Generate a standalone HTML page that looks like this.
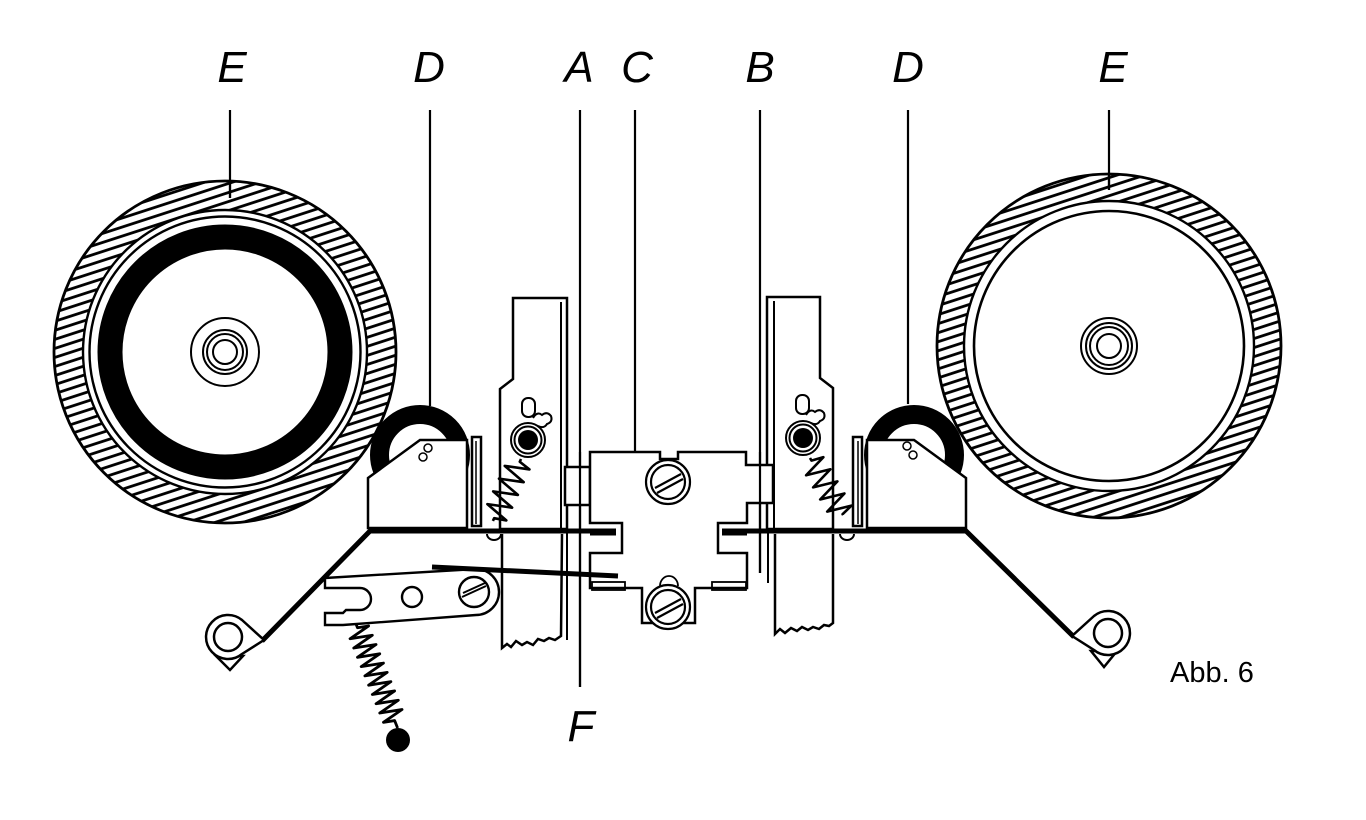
<!DOCTYPE html>
<html>
<head>
<meta charset="utf-8">
<style>
html,body{margin:0;padding:0;background:#fff;}
svg{display:block;}
.lbl{font-family:"Liberation Sans",sans-serif;font-style:italic;font-size:44px;fill:#000;text-anchor:middle;}
</style>
</head>
<body>
<svg width="1366" height="820" viewBox="0 0 1366 820" xmlns="http://www.w3.org/2000/svg">
<defs>
<pattern id="h" width="9" height="8.6" patternUnits="userSpaceOnUse" patternTransform="rotate(-18)">
<line x1="-1" y1="4.3" x2="10" y2="4.3" stroke="#000" stroke-width="2.8"/>
</pattern>
</defs>
<rect width="1366" height="820" fill="#fff"/>

<!-- label lines -->
<g stroke="#000" stroke-width="2.2" fill="none">
<line x1="230" y1="110" x2="230" y2="198"/>
<line x1="430" y1="110" x2="430" y2="406"/>
<line x1="580" y1="110" x2="580" y2="687"/>
<line x1="635" y1="110" x2="635" y2="467"/>
<line x1="760" y1="110" x2="760" y2="573"/>
<line x1="908" y1="110" x2="908" y2="404"/>
<line x1="1109" y1="110" x2="1109" y2="190"/>
</g>

<!-- left reel -->
<path d="M54,352 a171,171 0 1 0 342,0 a171,171 0 1 0 -342,0 Z M83,352 a142,142 0 1 0 284,0 a142,142 0 1 0 -284,0 Z" fill="url(#h)" fill-rule="evenodd"/>
<g fill="none" stroke="#000">
<circle cx="225" cy="352" r="171" stroke-width="2.8"/>
<circle cx="225" cy="352" r="142" stroke-width="2.4"/>
<circle cx="225" cy="352" r="135.5" stroke-width="2.4"/>
<circle cx="225" cy="352" r="115" stroke-width="25"/>
<circle cx="225" cy="352" r="34" stroke-width="2"/>
<circle cx="225" cy="352" r="22" stroke-width="2"/>
<circle cx="225" cy="352" r="18" stroke-width="2"/>
<circle cx="225" cy="352" r="12" stroke-width="2"/>
</g>
<line x1="230" y1="182" x2="230" y2="198" stroke="#000" stroke-width="2.2"/>

<!-- right reel -->
<path d="M937,346 a172,172 0 1 0 344,0 a172,172 0 1 0 -344,0 Z M964,346 a145,145 0 1 0 290,0 a145,145 0 1 0 -290,0 Z" fill="url(#h)" fill-rule="evenodd"/>
<g fill="none" stroke="#000">
<circle cx="1109" cy="346" r="172" stroke-width="2.8"/>
<circle cx="1109" cy="346" r="145" stroke-width="2.4"/>
<circle cx="1109" cy="346" r="135" stroke-width="2.6"/>
<circle cx="1109" cy="346" r="28" stroke-width="2"/>
<circle cx="1109" cy="346" r="23" stroke-width="2"/>
<circle cx="1109" cy="346" r="19" stroke-width="2"/>
<circle cx="1109" cy="346" r="12" stroke-width="2"/>
</g>
<line x1="1109" y1="174" x2="1109" y2="190" stroke="#000" stroke-width="2.2"/>

<!-- idler wheels D -->
<circle cx="420" cy="455" r="40.5" stroke="#000" stroke-width="19" fill="#fff"/>
<circle cx="914" cy="455" r="40.5" stroke="#000" stroke-width="19" fill="#fff"/>

<!-- brackets -->
<g stroke="#000" stroke-width="2.5" fill="#fff">
<polygon points="368,478 420,440 467,440 467,528 368,528"/>
<rect x="472" y="437" width="9" height="89"/>
<polygon points="867,440 914,440 966,478 966,528 867,528"/>
<rect x="853" y="437" width="9" height="89"/>
</g>
<g stroke="#000" stroke-width="1.5" fill="none">
<line x1="476" y1="441" x2="476" y2="524"/>
<line x1="858" y1="441" x2="858" y2="524"/>
<circle cx="428" cy="448" r="4"/><circle cx="423" cy="457" r="4"/>
<circle cx="907" cy="446" r="4"/><circle cx="913" cy="455" r="4"/>
</g>

<!-- vertical plates -->
<g stroke="#000" stroke-width="2.5" fill="#fff">
<path d="M513,298 L567,298 L567,529 L500,529 L500,389 L513,379 Z"/>
<path d="M502,534 L502,648 l5,-4 l4,3 l5,-6 l6,4 l5,-3 l6,3 l5,-6 l6,2 l5,-3 l6,2 l6,-4 L562,534"/>
<path d="M767,297 L820,297 L820,378 L833,388 L833,529 L767,529 Z"/>
<path d="M775,534 L775,634 l5,-5 l5,4 l6,-5 l6,3 l5,-4 l6,3 l5,-3 l6,2 l5,-4 l5,1 l4,-3 L833,534"/>
</g>
<g stroke="#000" stroke-width="2" fill="none">
<line x1="561" y1="302" x2="561" y2="529"/>
<line x1="567" y1="529" x2="567" y2="640"/>
<line x1="774" y1="301" x2="774" y2="529"/>
<line x1="768" y1="529" x2="768" y2="583"/>
</g>

<!-- pivots -->
<g stroke="#000" fill="#fff" stroke-width="2">
<rect x="522" y="398" width="13" height="19" rx="6"/>
<path d="M533,418 q4,-7 9,-3 q5,-4 9,1 q2,6 -4,8 q-3,5 -9,2"/>
<circle cx="528" cy="440" r="17"/>
<circle cx="528" cy="440" r="13.5"/>
<rect x="796" y="395" width="13" height="19" rx="6"/>
<path d="M806,415 q4,-7 9,-3 q5,-4 9,1 q2,6 -4,8 q-3,5 -9,2"/>
<circle cx="803" cy="438" r="17"/>
<circle cx="803" cy="438" r="13.5"/>
</g>
<circle cx="528" cy="440" r="10" fill="#000"/>
<circle cx="803" cy="438" r="10" fill="#000"/>

<!-- plate springs -->
<g stroke="#000" stroke-width="2.6" fill="none" stroke-linejoin="round">
<path transform="translate(521,459) rotate(114.4)" d="M0,0 L3,0 l3,-12 l7,24 l7,-24 l7,24 l7,-24 l7,24 l7,-24 l7,24 l7,-24 l3,12 L68,0"/>
<path transform="translate(810,458) rotate(59.9)" d="M0,0 L3,0 l3,-12 l7,24 l7,-24 l7,24 l7,-24 l7,24 l7,-24 l7,24 l7,-24 l3,12 L66,0"/>
</g>

<!-- main thick bars -->
<g stroke="#000" stroke-width="5" fill="none" stroke-linejoin="miter">
<polyline points="262,641 370,531 616,531"/>
<polyline points="722,531 966,531 1074,637"/>
</g>
<g stroke="#000" stroke-width="2" fill="#fff">
<path d="M487,534 a7,6 0 0 0 14,0"/>
<path d="M840,534 a7,6 0 0 0 14,0"/>
</g>

<!-- eyes -->
<g stroke="#000" stroke-width="2.5" fill="#fff">
<polygon points="216,656 243,656 230,670"/>
<path d="M242,620 L264,640 L242,654 A22,22 0 1 1 242,620 Z"/>
<circle cx="228" cy="637" r="14"/>
<polygon points="1091,651 1117,651 1104,667"/>
<path d="M1094,616 L1072,636 L1094,650 A22,22 0 1 0 1094,616 Z"/>
<circle cx="1108" cy="633" r="14"/>
</g>

<!-- center block C -->
<g stroke="#000" stroke-width="2.5" fill="#fff">
<rect x="565" y="467" width="25" height="38"/>
<path d="M590,452 L660,452 L660,459 L678,459 L678,452 L746,452 L746,465 L773,465 L773,503 L747,503 L747,523 L718,523 L718,553 L747,553 L747,588 L695,588 L695,623 L642,623 L642,588 L590,588 L590,553 L622,553 L622,523 L590,523 Z"/>
</g>
<g stroke="#000" stroke-width="1.8" fill="none">
<rect x="592" y="582" width="33" height="8"/>
<rect x="712" y="582" width="34" height="8"/>
<line x1="580" y1="505" x2="590" y2="505"/>
<path d="M660,586 A9,10 0 0 1 678,586"/>
</g>
<line x1="760" y1="452" x2="760" y2="573" stroke="#000" stroke-width="2.2"/>
<line x1="580" y1="452" x2="580" y2="687" stroke="#000" stroke-width="2.2"/>
<!-- screws -->
<g stroke="#000" stroke-width="2.2" fill="#fff">
<circle cx="668" cy="482" r="22"/>
<circle cx="668" cy="482" r="17"/>
<circle cx="668" cy="607" r="22"/>
<circle cx="668" cy="607" r="17"/>
</g>
<g stroke="#000" stroke-width="2.2" fill="none">
<line x1="655" y1="488" x2="681" y2="474"/>
<line x1="657" y1="493" x2="683" y2="479"/>
<line x1="655" y1="613" x2="681" y2="599"/>
<line x1="657" y1="618" x2="683" y2="604"/>
</g>
<!-- inner thick bar ends -->
<line x1="590" y1="533" x2="616" y2="533" stroke="#000" stroke-width="5"/>
<line x1="722" y1="533" x2="747" y2="533" stroke="#000" stroke-width="5"/>

<!-- lever -->
<g stroke="#000" stroke-width="2.4" fill="#fff">
<path d="M325,578 L476,569 A23,23 0 0 1 476,615 L343,625 L325,625 L325,613 L343,613 L346,610 L360,610 A11,11 0 0 0 360,588 L325,588 Z"/>
<circle cx="412" cy="597" r="10"/>
<circle cx="474" cy="592" r="15"/>
</g>
<g stroke="#000" stroke-width="2" fill="none">
<line x1="462" y1="597" x2="486" y2="586"/>
<line x1="463" y1="593" x2="485" y2="583"/>
</g>
<line x1="432" y1="567" x2="618" y2="576" stroke="#000" stroke-width="5"/>
<path transform="translate(356,624) rotate(68.2)" d="M0,0 L4,0 l2.5,-11 l5,22 l5,-22 l5,22 l5,-22 l5,22 l5,-22 l5,22 l5,-22 l5,22 l5,-22 l5,22 l5,-22 l5,22 l5,-22 l5,22 l5,-22 l5,22 l5,-22 l5,22 l2.5,-11 L112,0" stroke="#000" stroke-width="2.8" fill="none" stroke-linejoin="round"/>
<circle cx="398" cy="740" r="12" fill="#000"/>

<!-- labels -->
<text class="lbl" x="232" y="82">E</text>
<text class="lbl" x="429" y="82">D</text>
<text class="lbl" x="579" y="82">A</text>
<text class="lbl" x="637" y="82">C</text>
<text class="lbl" x="760" y="82">B</text>
<text class="lbl" x="908" y="82">D</text>
<text class="lbl" x="1113" y="82">E</text>
<text class="lbl" x="581" y="741">F</text>
<text x="1170" y="682" font-family="Liberation Sans, sans-serif" font-size="29" fill="#000">Abb. 6</text>
</svg>
</body>
</html>
